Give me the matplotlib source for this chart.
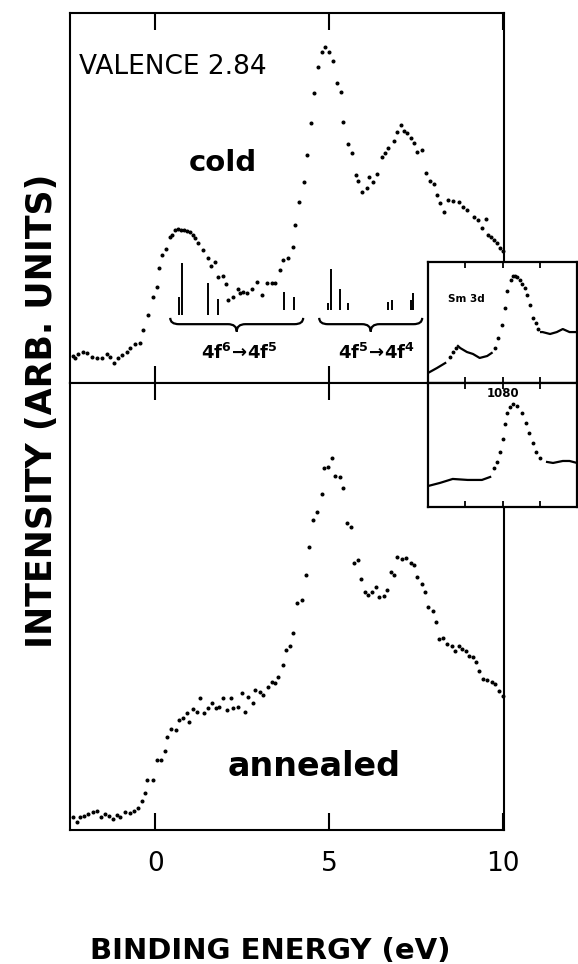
import matplotlib.pyplot as plt
import numpy as np
from matplotlib.path import Path
from matplotlib.patches import PathPatch

plt.rcParams['font.family'] = ['DejaVu Sans']
plt.rcParams['mathtext.fontset'] = 'dejavusans'

# valence band spectra (binding energy in eV, intensity in arb. units 0-100)
cold_E = [-2.36, -2.30, -2.21, -2.07, -1.95, -1.81, -1.67, -1.52, -1.38, -1.29,
          -1.18, -1.06, -0.95, -0.80, -0.72, -0.57, -0.43, -0.34, -0.20, -0.06,
          0.06, 0.11, 0.20, 0.32, 0.43, 0.49, 0.57, 0.66, 0.75, 0.83,
          0.92, 1.01, 1.09, 1.15, 1.24, 1.38, 1.52, 1.61, 1.72, 1.81,
          1.95, 2.04, 2.10, 2.24, 2.39, 2.44, 2.53, 2.64, 2.79, 2.93,
          3.07, 3.22, 3.36, 3.45, 3.59, 3.68, 3.82, 3.97, 4.02, 4.14,
          4.28, 4.37, 4.48, 4.57, 4.68, 4.80, 4.89, 5.00, 5.11, 5.23,
          5.34, 5.40, 5.55, 5.66, 5.78, 5.83, 5.95, 6.09, 6.15, 6.26,
          6.38, 6.52, 6.61, 6.70, 6.87, 6.95, 7.07, 7.16, 7.24, 7.36,
          7.44, 7.53, 7.67, 7.79, 7.90, 8.02, 8.10, 8.19, 8.30, 8.42,
          8.56, 8.74, 8.85, 8.97, 9.17, 9.28, 9.40, 9.51, 9.57, 9.66,
          9.74, 9.83, 9.91, 10.0]
cold_I = [7.3, 6.8, 7.8, 8.4, 8.1, 7.0, 6.8, 6.8, 7.8, 7.0,
          5.4, 6.8, 7.6, 8.4, 9.5, 10.5, 10.8, 14.3, 18.4, 23.2,
          25.9, 31.1, 34.6, 36.2, 39.5, 40.0, 41.4, 41.6, 41.4, 41.4,
          41.1, 40.8, 40.0, 39.2, 37.8, 35.9, 33.8, 31.6, 32.7, 28.6,
          28.9, 26.8, 22.4, 23.2, 25.4, 24.3, 24.6, 24.3, 25.4, 27.3,
          23.8, 27.0, 27.0, 27.0, 30.5, 33.2, 33.8, 36.8, 42.7, 48.9,
          54.3, 61.6, 70.3, 78.4, 85.4, 89.5, 90.8, 89.5, 87.0, 81.1,
          78.6, 70.5, 64.6, 62.2, 56.2, 54.6, 51.6, 52.7, 55.7, 54.3,
          56.5, 61.1, 62.2, 63.5, 65.4, 67.8, 69.7, 68.1, 67.6, 66.2,
          64.9, 62.4, 63.0, 56.8, 54.6, 53.8, 50.8, 48.6, 46.2, 49.5,
          49.2, 48.9, 47.6, 46.8, 44.9, 44.1, 41.9, 44.3, 40.0, 39.5,
          38.6, 37.8, 36.5, 35.7]

annealed_E = [-2.36, -2.24, -2.16, -2.04, -1.93, -1.78, -1.67, -1.55, -1.44, -1.32,
              -1.21, -1.09, -1.01, -0.86, -0.72, -0.60, -0.49, -0.37, -0.29, -0.23,
              -0.06, 0.06, 0.17, 0.29, 0.34, 0.46, 0.60, 0.69, 0.80, 0.92,
              0.98, 1.09, 1.21, 1.29, 1.41, 1.52, 1.64, 1.75, 1.84, 1.95,
              2.07, 2.18, 2.24, 2.39, 2.50, 2.59, 2.67, 2.82, 2.87, 3.02,
              3.10, 3.25, 3.36, 3.45, 3.53, 3.68, 3.76, 3.88, 3.97, 4.08,
              4.22, 4.34, 4.43, 4.54, 4.66, 4.80, 4.86, 4.97, 5.09, 5.17,
              5.32, 5.40, 5.52, 5.63, 5.72, 5.83, 5.92, 6.03, 6.12, 6.24,
              6.35, 6.44, 6.58, 6.67, 6.78, 6.87, 6.95, 7.10, 7.21, 7.36,
              7.44, 7.53, 7.67, 7.76, 7.84, 7.99, 8.07, 8.16, 8.28, 8.39,
              8.53, 8.62, 8.74, 8.82, 8.94, 9.02, 9.14, 9.22, 9.31, 9.43,
              9.54, 9.68, 9.77, 9.89, 10.0]
annealed_I = [2.9, 1.8, 2.9, 3.1, 3.6, 4.0, 4.3, 2.9, 3.6, 3.1,
              2.5, 3.4, 2.9, 4.0, 3.8, 4.3, 4.9, 6.5, 8.3, 11.2,
              11.2, 15.7, 15.7, 17.7, 20.8, 22.6, 22.4, 24.6, 25.1, 26.2,
              24.2, 27.1, 26.4, 29.5, 26.2, 27.3, 28.4, 27.3, 27.5, 29.5,
              26.8, 29.5, 27.3, 27.5, 30.6, 26.4, 29.8, 28.4, 31.3, 30.9,
              30.2, 32.0, 33.1, 32.9, 34.2, 36.9, 40.3, 41.2, 44.1, 50.8,
              51.5, 57.0, 63.3, 69.4, 71.1, 75.2, 81.0, 81.2, 83.2, 79.2,
              79.0, 76.5, 68.7, 67.8, 59.7, 60.4, 56.2, 53.2, 52.6, 53.2,
              54.4, 52.1, 52.3, 53.7, 57.7, 57.0, 61.1, 60.6, 60.9, 59.7,
              59.3, 56.6, 55.0, 53.2, 49.9, 49.0, 46.5, 42.7, 43.0, 41.6,
              41.2, 40.0, 41.2, 40.5, 40.0, 38.9, 38.7, 37.6, 35.6, 33.8,
              33.6, 33.1, 32.7, 31.1, 30.0]

# final-state multiplet lines
stick_E = [0.69, 0.78, 1.52, 1.81, 3.71, 4.00, 4.97, 5.06, 5.32, 5.55, 6.70, 6.81, 7.36, 7.41]
stick_base = [18.4, 18.4, 18.4, 18.4, 19.7, 19.7, 19.7, 19.7, 19.7, 19.7, 19.7, 19.7, 19.7, 19.7]
stick_top = [23.2, 32.4, 27.0, 22.7, 24.6, 23.2, 21.6, 30.8, 25.4, 21.6, 21.9, 22.4, 22.4, 24.3]

# Sm 3d insets (nan splits the traced segments)
cold3d_line_E = [1070.0, 1071.2, 1072.3, np.nan,
                 1074.0, 1074.3, 1075.2, 1076.0, 1076.9, 1077.9, 1078.5, np.nan,
                 1085.1, 1085.3, 1086.3, 1087.2, 1088.0, 1088.9, 1090.0]
cold3d_line_I = [8.3, 12.4, 16.5, np.nan,
                 30.6, 28.9, 25.6, 24.0, 20.7, 22.3, 24.8, np.nan,
                 42.1, 42.1, 40.5, 42.1, 44.6, 42.1, 42.1]
cold3d_dot_E = [1072.9, 1073.3, 1073.7, 1078.9, 1079.3, 1079.9, 1080.3, 1080.5, 1081.1,
                1081.3, 1081.6, 1081.9, 1082.3, 1082.5, 1082.9, 1083.2, 1083.6, 1084.0,
                1084.4, 1084.7]
cold3d_dot_I = [21.5, 25.6, 28.9, 28.9, 37.2, 47.9, 62.0, 76.0, 85.1,
                88.4, 88.4, 87.6, 85.1, 81.8, 78.5, 72.7, 64.5, 53.7,
                49.6, 44.6]

ann3d_line_E = [1070.0, 1071.6, 1073.3, 1075.3, 1077.2, 1078.3, np.nan,
                1085.9, 1086.7, 1088.0, 1088.9, 1089.9]
ann3d_line_I = [16.9, 19.4, 22.6, 21.8, 21.8, 24.2, np.nan,
                36.3, 35.5, 37.1, 37.1, 35.5]
ann3d_dot_E = [1078.8, 1079.2, 1079.6, 1080.0, 1080.3, 1080.5, 1080.9, 1081.3, 1081.9,
               1082.5, 1083.1, 1083.5, 1084.0, 1084.4, 1084.9]
ann3d_dot_I = [31.5, 36.3, 44.4, 54.8, 66.9, 75.8, 80.6, 83.1, 81.5,
               75.8, 67.7, 59.7, 51.6, 44.4, 39.5]


def brace(ax, x0, x1, yt, ym, yb, dx):
    xm = (x0 + x1) / 2
    verts = [(x0, yt), (x0, ym), (x0 + dx, ym), (xm - dx, ym), (xm, ym), (xm, yb),
             (xm, ym), (xm + dx, ym), (x1 - dx, ym), (x1, ym), (x1, yt)]
    codes = [Path.MOVETO, Path.CURVE3, Path.CURVE3, Path.LINETO, Path.CURVE3, Path.CURVE3,
             Path.CURVE3, Path.CURVE3, Path.LINETO, Path.CURVE3, Path.CURVE3]
    ax.add_patch(PathPatch(Path(verts, codes), fill=False, lw=1.6, color='black'))


fig = plt.figure(figsize=(5.78, 9.64), dpi=100)
ax_top = fig.add_axes([0.1211, 0.6027, 0.7509, 0.3838])
ax_bot = fig.add_axes([0.1211, 0.1390, 0.7509, 0.4637])

for ax in (ax_top, ax_bot):
    ax.set_xlim(-2.45, 10.02)
    ax.set_ylim(0, 100)
    ax.set_yticks([])
    ax.set_xticks([0, 5, 10])
    for s in ax.spines.values():
        s.set_linewidth(1.5)
    ax.tick_params(axis='x', direction='in', length=12, width=1.5, top=True, bottom=True)

ax_top.tick_params(labelbottom=False)
ax_bot.tick_params(axis='x', labelsize=19, pad=15)

ax_top.plot(cold_E, cold_I, 'o', ms=1.9, color='black', clip_on=False)
ax_bot.plot(annealed_E, annealed_I, 'o', ms=1.9, color='black', clip_on=False)
ax_top.vlines(stick_E, stick_base, stick_top, color='black', lw=1.4)

brace(ax_top, 0.43, 4.25, 17.6, 15.9, 13.9, 0.25)
brace(ax_top, 4.71, 7.67, 17.6, 15.9, 13.9, 0.25)

ax_top.text(-2.2, 85.4, 'VALENCE 2.84', fontsize=19, ha='left', va='center')
ax_top.text(1.93, 59.5, 'cold', fontsize=21, fontweight='bold', ha='center', va='center')
ax_top.text(2.41, 6.6, r'$\mathbf{4f^{6}\!\rightarrow\!4f^{5}}$', fontsize=13,
            ha='center', va='baseline')
ax_top.text(6.35, 6.6, r'$\mathbf{4f^{5}\!\rightarrow\!4f^{4}}$', fontsize=13,
            ha='center', va='baseline')
ax_bot.text(4.57, 14.1, 'annealed', fontsize=24, fontweight='bold', ha='center', va='center')

fig.text(0.0727, 0.5737, 'INTENSITY (ARB. UNITS)', rotation=90, fontsize=25,
         fontweight='bold', ha='center', va='center')
fig.text(0.467, 0.0135, 'BINDING ENERGY (eV)', fontsize=21, fontweight='bold',
         ha='center', va='center')

# Sm 3d core-level insets
in_top = fig.add_axes([0.7405, 0.6027, 0.2578, 0.1255])
in_bot = fig.add_axes([0.7405, 0.4741, 0.2578, 0.1286])
for ax in (in_top, in_bot):
    ax.set_facecolor('white')
    ax.set_xlim(1070, 1089.9)
    ax.set_ylim(0, 100)
    ax.set_yticks([])
    ax.set_xticks([1075, 1080, 1085])
    ax.tick_params(axis='x', direction='in', length=4, width=1.3, top=True, bottom=True,
                   labelbottom=False)
    for s in ax.spines.values():
        s.set_linewidth(1.6)

in_top.plot(cold3d_line_E, cold3d_line_I, color='black', lw=1.6)
in_top.plot(cold3d_dot_E, cold3d_dot_I, 'o', ms=1.8, color='black')
in_bot.plot(ann3d_line_E, ann3d_line_I, color='black', lw=1.6)
in_bot.plot(ann3d_dot_E, ann3d_dot_I, 'o', ms=1.8, color='black')
in_top.text(1075.1, 69.8, 'Sm 3d', fontsize=7.5, fontweight='bold', ha='center', va='center')
in_bot.text(1080, 91.5, '1080', fontsize=8.5, fontweight='bold', ha='center', va='center')

fig.savefig('out.png', dpi=100)
